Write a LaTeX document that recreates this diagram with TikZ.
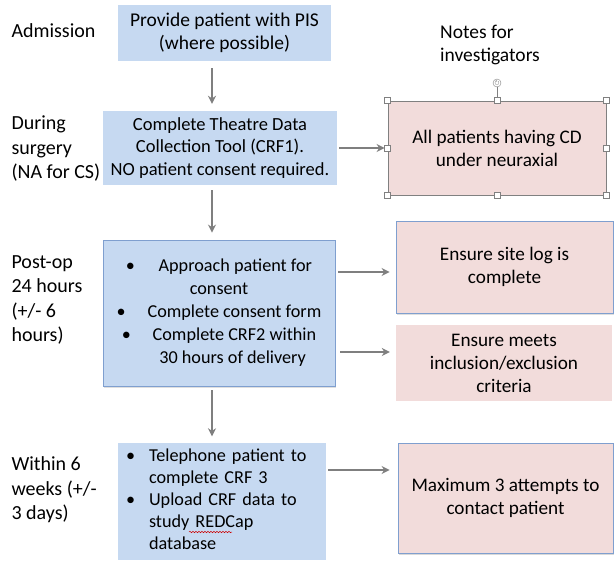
\documentclass[tikz,border=0pt]{standalone}
\usepackage{amssymb}
\usepackage{fontspec}
\setmainfont{Carlito}
\usetikzlibrary{arrows.meta,shadows,decorations.pathmorphing}

\definecolor{stepblue}{HTML}{C6D9F1}
\definecolor{noterose}{HTML}{F2DCDB}
\definecolor{edgeblue}{HTML}{7F9FCF}
\definecolor{flowgrey}{HTML}{7F7F7F}

\tikzset{
  stage/.style={anchor=west,align=left,font=\fontsize{20}{24.5}\selectfont},
  stepbox/.style={fill=stepblue,align=center,inner sep=0pt},
  notebox/.style={fill=noterose,align=center,inner sep=0pt,font=\fontsize{19.2}{23}\selectfont},
  flow/.style={draw=flowgrey,line width=1.8pt,-{Stealth[length=8pt,width=8pt]}},
  handle/.style={draw=gray,fill=white,line width=0.5pt,minimum size=6pt,inner sep=0pt}
}

\begin{document}
\begin{tikzpicture}[x=1pt,y=-1pt]
	\useasboundingbox (0,0) rectangle (615,564);
	% time points
	\node[stage] (admit) at (8,31) {Admission};
	\node[stage] (during) at (8,149) {During\\surgery\\(NA for CS)};
	\node[stage] (postlbl) at (8,300) {Post-op\\24 hours\\(+/- 6\\hours)};
	\node[stage] (weeks) at (8,490) {Within 6\\weeks (+/-\\3 days)};
	% main steps
	\node[stepbox,font=\fontsize{19.5}{23}\selectfont,minimum width=213pt,minimum height=56pt] (pis) at (224.5,33) {Provide patient with PIS\\(where possible)};
	\node[stepbox,font=\fontsize{18.5}{22.5}\selectfont,minimum width=234pt,minimum height=74pt] (crf1) at (220,148) {Complete Theatre Data\\Collection Tool (CRF1).\\NO patient consent required.};
	\node[stepbox,font=\fontsize{18.2}{23}\selectfont,draw=edgeblue,line width=0.8pt,minimum width=232pt,minimum height=146pt,
	      drop shadow={opacity=0.25,shadow xshift=1pt,shadow yshift=-1.5pt}] (postop) at (219,313)
		{\textbullet\hspace{1.3em}Approach patient for\\consent\\\textbullet\hspace{1.2em}Complete consent form\\\textbullet\hspace{1.2em}Complete CRF2 within\\\hspace{1.5em}30 hours of delivery};
	\node[stepbox,font=\fontsize{18.2}{22}\selectfont,text width=192pt,align=left,minimum width=208pt,minimum height=117pt] (phone) at (222,501)
		{\begin{tabular}{@{}l@{\hspace{14pt}}l@{}}
		\textbullet & Telephone patient to\\
		 & complete CRF 3\\
		\textbullet & Upload CRF data to\\
		 & study REDCap\\
		 & database
		\end{tabular}};
	% notes
	\node[font=\fontsize{19.5}{23.5}\selectfont,align=left] (notes) at (490,45) {Notes for\\investigators};
	\node[notebox,draw=gray,line width=0.8pt,minimum width=218pt,minimum height=94pt] (cd) at (497,148) {All patients having CD\\under neuraxial};
	\node[notebox,draw=edgeblue,line width=0.8pt,minimum width=217pt,minimum height=92pt,
	      drop shadow={opacity=0.25,shadow xshift=1pt,shadow yshift=-1.5pt}] (sitelog) at (504.5,267) {Ensure site log is\\complete};
	\node[notebox,minimum width=216pt,minimum height=76pt] (incl) at (504,363) {Ensure meets\\inclusion/exclusion\\criteria};
	\node[notebox,draw=edgeblue,line width=0.8pt,minimum width=215pt,minimum height=110pt,
	      drop shadow={opacity=0.3,shadow xshift=1pt,shadow yshift=-1.5pt}] (maxatt) at (505.5,498) {Maximum 3 attempts to\\contact patient};
	% spell check mark
	\draw[red!80!black,line width=0.5pt,decorate,decoration={snake,amplitude=0.7pt,segment length=3pt}] (189,532) -- (232,532);
	% selection handles
	\coordinate (rot) at (497,83);
	\draw[gray,line width=0.5pt] (cd.north) -- (rot);
	\node[draw=gray,fill=white,circle,minimum size=8pt,inner sep=0pt,font=\fontsize{5}{5}\selectfont] (rotknob) at (rot) {$\circlearrowright$};
	\foreach \a in {north west,north,north east,west,east,south west,south,south east}
		\node[handle] at (cd.\a) {};
	% connectors
	\coordinate (spine) at (212,0);
	\draw[flow,shorten <=7pt,shorten >=7pt] (pis.south -| spine) -- (crf1.north -| spine);
	\draw[flow,shorten <=5pt,shorten >=7pt] (crf1.south -| spine) -- (postop.north -| spine);
	\draw[flow,shorten <=4pt,shorten >=6pt] (postop.south -| spine) -- (phone.north -| spine);
	\draw[flow,shorten <=2pt,shorten >=3pt] (crf1.east) -- (cd.west);
	\draw[flow,shorten <=3pt,shorten >=6pt] ([yshift=-5pt]postop.east |- sitelog.west) -- ([yshift=-5pt]sitelog.west);
	\draw[flow,shorten <=5pt,shorten >=6pt] ([yshift=11pt]postop.east |- incl.west) -- ([yshift=11pt]incl.west);
	\draw[flow,shorten <=2pt,shorten >=8pt] ([yshift=28pt]phone.east |- maxatt.west) -- ([yshift=28pt]maxatt.west);
\end{tikzpicture}
\end{document}
